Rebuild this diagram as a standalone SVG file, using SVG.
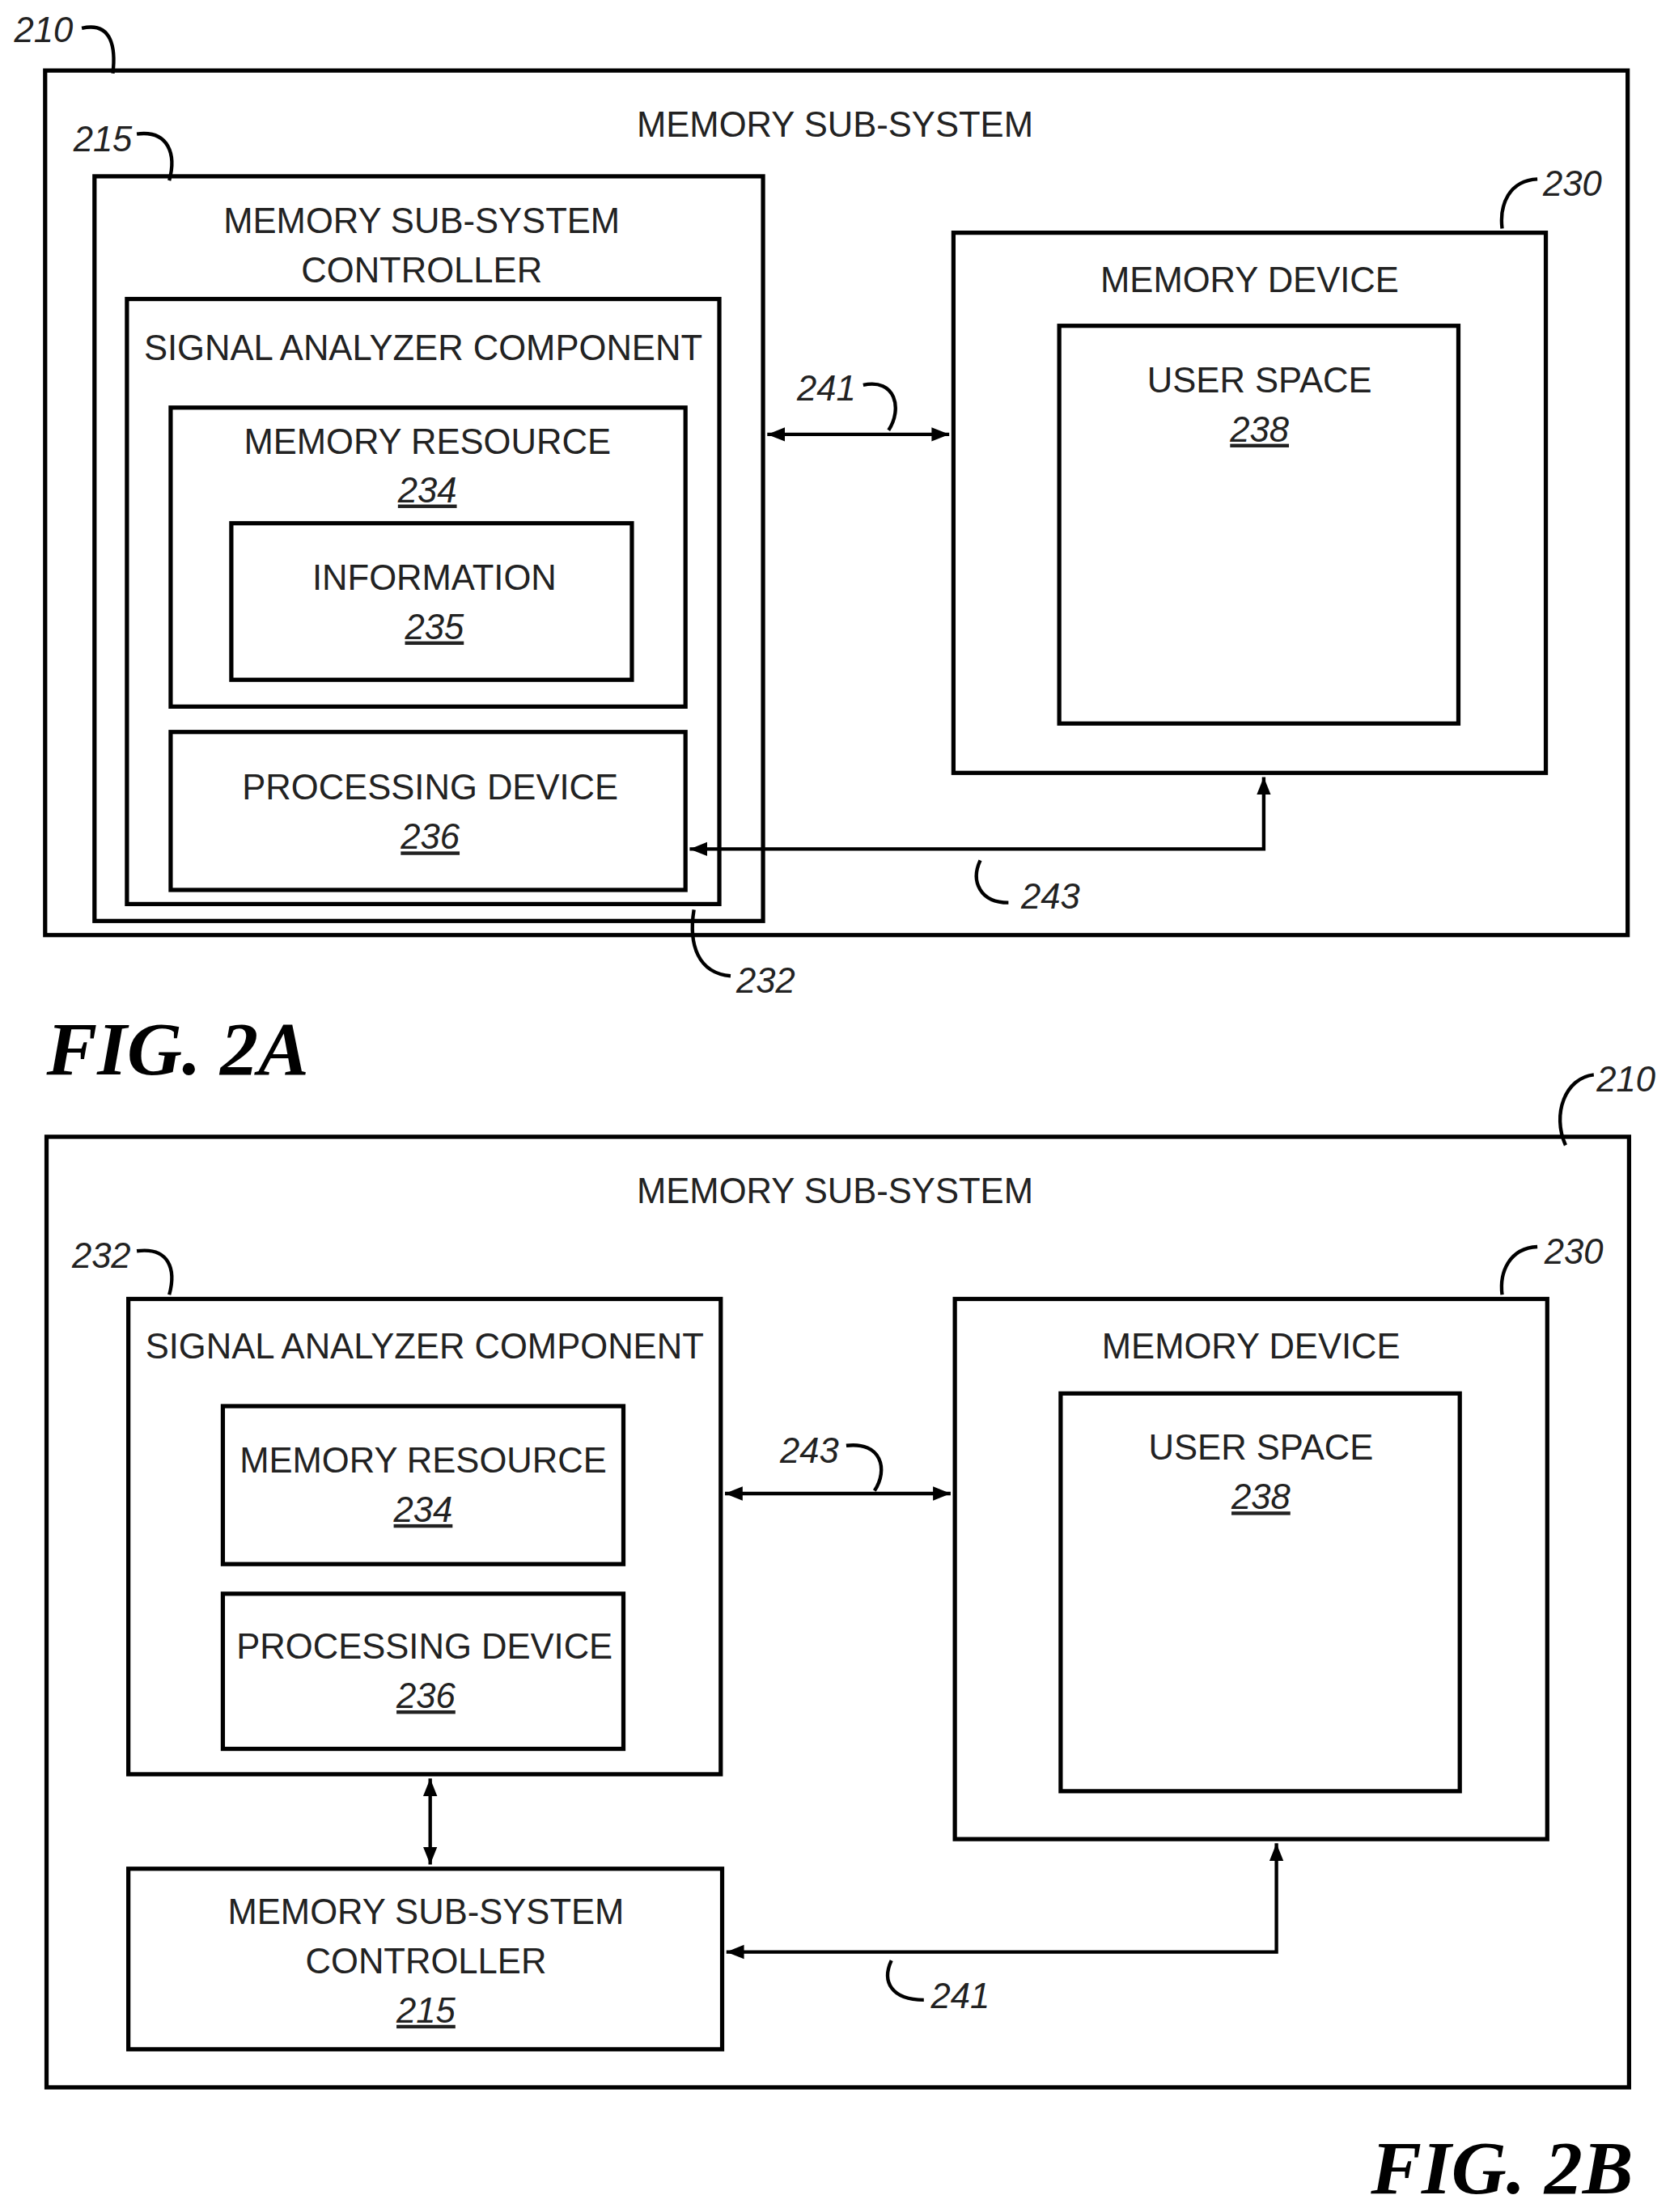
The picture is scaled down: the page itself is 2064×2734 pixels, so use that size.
<svg xmlns="http://www.w3.org/2000/svg" width="2064" height="2734" viewBox="0 0 2064 2734">
<defs>
<marker id="ah" viewBox="0 0 10 10" refX="10" refY="5" markerWidth="5" markerHeight="5" orient="auto-start-reverse" markerUnits="strokeWidth"><path d="M0,1 L10,5 L0,9 z" fill="#000"/></marker>
<style>
.b{fill:none;stroke:#000;stroke-width:3}
.c{fill:none;stroke:#000;stroke-width:2.5}
.t{font-family:"Liberation Sans",Arial,sans-serif;font-size:25px;text-anchor:middle;fill:#222}
.n{font-family:"Liberation Sans",Arial,sans-serif;font-size:25px;font-style:italic;fill:#222}
.u{text-decoration:underline}
.f{font-family:"Liberation Serif","Times New Roman",serif;font-size:54px;font-weight:bold;font-style:italic;fill:#000}
</style>
</defs>
<rect width="2064" height="2734" fill="#fff"/>
<g transform="scale(1.7432)">
<g id="fig2a">
<g id="n210a"><rect class="b" x="32" y="50" width="1122" height="613"/><text class="t" x="592" y="97">MEMORY SUB-SYSTEM</text></g>
<g id="n215a"><rect class="b" x="67" y="125" width="474" height="528"/><text class="t" x="299" y="165">MEMORY SUB-SYSTEM</text><text class="t" x="299" y="200">CONTROLLER</text></g>
<g id="n232a"><rect class="b" x="90" y="212" width="420" height="429"/><text class="t" x="300" y="255">SIGNAL ANALYZER COMPONENT</text></g>
<g id="n234a"><rect class="b" x="121" y="289" width="365" height="212"/><text class="t" x="303" y="322">MEMORY RESOURCE</text><text class="t n u" x="303" y="356" style="text-anchor:middle">234</text></g>
<g id="n235a"><rect class="b" x="164" y="371" width="284" height="111"/><text class="t" x="308" y="418">INFORMATION</text><text class="t n u" x="308" y="453" style="text-anchor:middle">235</text></g>
<g id="n236a"><rect class="b" x="121" y="519" width="365" height="112"/><text class="t" x="305" y="567">PROCESSING DEVICE</text><text class="t n u" x="305" y="602" style="text-anchor:middle">236</text></g>
<g id="n230a"><rect class="b" x="676" y="165" width="420" height="383"/><text class="t" x="886" y="207">MEMORY DEVICE</text></g>
<g id="n238a"><rect class="b" x="751" y="231" width="283" height="282"/><text class="t" x="893" y="278">USER SPACE</text><text class="t n u" x="893" y="313" style="text-anchor:middle">238</text></g>
<text class="f" x="33" y="762">FIG. 2A</text>
</g>
<g id="fig2b">
<g id="n210b"><rect class="b" x="33" y="806" width="1122" height="674"/><text class="t" x="592" y="853">MEMORY SUB-SYSTEM</text></g>
<g id="n232b"><rect class="b" x="91" y="921" width="420" height="337"/><text class="t" x="301" y="963">SIGNAL ANALYZER COMPONENT</text></g>
<g id="n234b"><rect class="b" x="158" y="997" width="284" height="112"/><text class="t" x="300" y="1044">MEMORY RESOURCE</text><text class="t n u" x="300" y="1079" style="text-anchor:middle">234</text></g>
<g id="n236b"><rect class="b" x="158" y="1130" width="284" height="110"/><text class="t" x="301" y="1176">PROCESSING DEVICE</text><text class="t n u" x="302" y="1211" style="text-anchor:middle">236</text></g>
<g id="n230b"><rect class="b" x="677" y="921" width="420" height="383"/><text class="t" x="887" y="963">MEMORY DEVICE</text></g>
<g id="n238b"><rect class="b" x="752" y="988" width="283" height="282"/><text class="t" x="894" y="1035">USER SPACE</text><text class="t n u" x="894" y="1070" style="text-anchor:middle">238</text></g>
<g id="n215b"><rect class="b" x="91" y="1325" width="421" height="128"/><text class="t" x="302" y="1364">MEMORY SUB-SYSTEM</text><text class="t" x="302" y="1399">CONTROLLER</text><text class="t n u" x="302" y="1434" style="text-anchor:middle">215</text></g>
<text class="f" x="1158" y="1555" style="text-anchor:end">FIG. 2B</text>
</g>
<g id="connectors">
<line class="c" x1="544" y1="308" x2="673" y2="308" marker-start="url(#ah)" marker-end="url(#ah)"/>
<polyline class="c" points="896,551 896,602 489,602" marker-start="url(#ah)" marker-end="url(#ah)"/>
<line class="c" x1="514" y1="1059" x2="674" y2="1059" marker-start="url(#ah)" marker-end="url(#ah)"/>
<line class="c" x1="305" y1="1261" x2="305" y2="1322" marker-start="url(#ah)" marker-end="url(#ah)"/>
<polyline class="c" points="905,1307 905,1384 515,1384" marker-start="url(#ah)" marker-end="url(#ah)"/>
<path class="c" d="M58,20 C80,15 82,35 80,52"/>
<path class="c" d="M97,95 C120,92 125,110 120,128"/>
<path class="c" d="M1090,127 C1070,128 1063,145 1065,162"/>
<path class="c" d="M612,273 C635,268 640,290 630,305"/>
<path class="c" d="M715,640 C695,640 688,625 695,610"/>
<path class="c" d="M518,692 C495,690 488,670 492,645"/>
<path class="c" d="M1130,762 C1110,764 1100,790 1110,812"/>
<path class="c" d="M97,887 C120,884 125,900 120,918"/>
<path class="c" d="M1090,884 C1070,885 1063,902 1065,918"/>
<path class="c" d="M600,1025 C625,1022 630,1042 620,1057"/>
<path class="c" d="M655,1418 C632,1418 625,1405 632,1390"/>
</g>
<g id="labels">
<text class="n" x="10" y="30">210</text>
<text class="n" x="52" y="107">215</text>
<text class="n" x="1094" y="139">230</text>
<text class="n" x="565" y="284">241</text>
<text class="n" x="724" y="644">243</text>
<text class="n" x="522" y="704">232</text>
<text class="n" x="1132" y="774">210</text>
<text class="n" x="51" y="899">232</text>
<text class="n" x="1095" y="896">230</text>
<text class="n" x="553" y="1037">243</text>
<text class="n" x="660" y="1424">241</text>
</g>
</g>
</svg>
